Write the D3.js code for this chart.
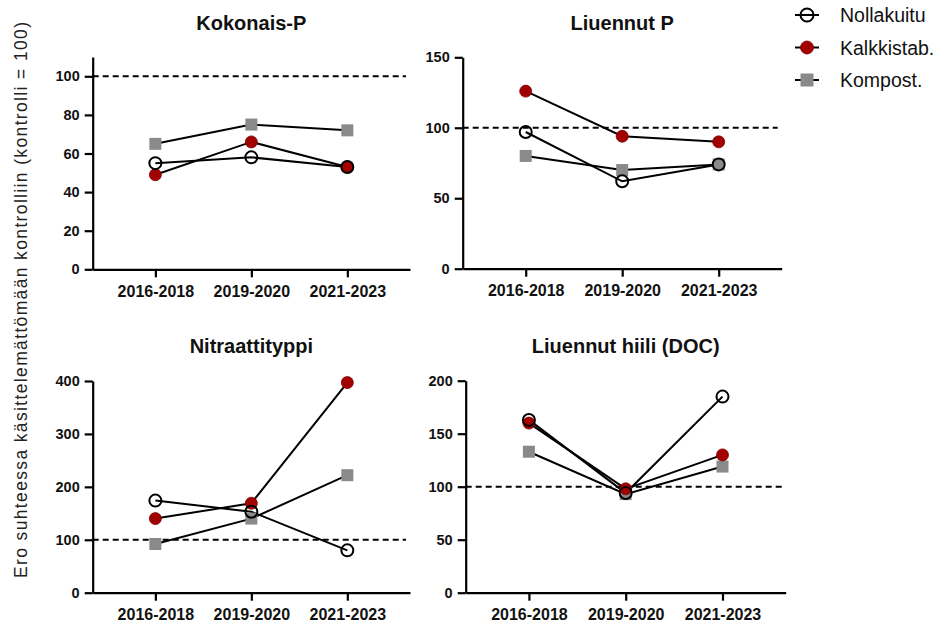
<!DOCTYPE html>
<html>
<head>
<meta charset="utf-8">
<script src="https://cdn.jsdelivr.net/npm/d3@7"></script>
<style>
  html, body { margin: 0; padding: 0; background: #fff; }
  svg { display: block; font-family: Arial, "Liberation Sans", Helvetica, sans-serif; }
</style>
</head>
<body>
<svg id="chart" width="938" height="623"></svg>
<script>
// Periods on the x axis
const periods = ["2016-2018", "2019-2020", "2021-2023"];

// Treatments (legend order)
const treatments = ["Nollakuitu", "Kalkkistab.", "Kompost."];

// Panel titles
const panelTitles = ["Kokonais-P", "Liuennut P", "Nitraattityppi", "Liuennut hiili (DOC)"];

// Values relative to untreated control (control = 100)
const kokonaisP_nolla   = [55, 58, 53];
const kokonaisP_kalkki  = [49, 66, 53];
const kokonaisP_kompost = [65, 75, 72];

const liuennutP_nolla   = [97, 62, 74];
const liuennutP_kalkki  = [126, 94, 90];
const liuennutP_kompost = [80, 70, 74];

const nitraatti_nolla   = [174, 153, 80];
const nitraatti_kalkki  = [140, 169, 397];
const nitraatti_kompost = [92, 140, 222];

const doc_nolla   = [163, 94, 185];
const doc_kalkki  = [160, 98, 130];
const doc_kompost = [133, 93, 119];

// Y-axis maxima and tick values per panel
const yMax = [110, 150, 400, 200];
const yTicks = [
  [0, 20, 40, 60, 80, 100],
  [0, 50, 100, 150],
  [0, 100, 200, 300, 400],
  [0, 50, 100, 150, 200]
];
const referenceLevel = 100;

const panelSeries = [
  [kokonaisP_nolla, kokonaisP_kalkki, kokonaisP_kompost],
  [liuennutP_nolla, liuennutP_kalkki, liuennutP_kompost],
  [nitraatti_nolla, nitraatti_kalkki, nitraatti_kompost],
  [doc_nolla, doc_kalkki, doc_kompost]
];

// Layout of the four plot areas (axis x-start, x-end, y-top, y-bottom)
const layout = [
  { x0: 92.7,  x1: 410,   y0: 57,    y1: 269.3, titleY: 30 },
  { x0: 462.7, x1: 781.7, y0: 57.3,  y1: 268.7, titleY: 30 },
  { x0: 92.7,  x1: 410,   y0: 381,   y1: 592.7, titleY: 353 },
  { x0: 465.7, x1: 785.7, y0: 380.7, y1: 592.7, titleY: 353 }
];

const RED = "#a30000";
const GRAY = "#8a8a8a";

const svg = d3.select("#chart");

function drawMarker(g, kind, x, y, size) {
  if (kind === 0) {
    g.append("circle").attr("cx", x).attr("cy", y).attr("r", size)
      .attr("fill", "none").attr("stroke", "#000").attr("stroke-width", 2);
  } else if (kind === 1) {
    g.append("circle").attr("cx", x).attr("cy", y).attr("r", size)
      .attr("fill", RED).attr("stroke", "#7a0000").attr("stroke-width", 0.8);
  } else {
    const s = size * 2;
    g.append("rect").attr("x", x - s / 2).attr("y", y - s / 2)
      .attr("width", s).attr("height", s).attr("fill", GRAY);
  }
}

panelSeries.forEach((series, i) => {
  const L = layout[i];
  const x = d3.scalePoint().domain(periods).range([L.x0, L.x1]).padding(0.653);
  const y = d3.scaleLinear().domain([0, yMax[i]]).range([L.y1, L.y0]);
  const g = svg.append("g");

  // Title
  g.append("text")
    .attr("x", x(periods[1]))
    .attr("y", L.titleY)
    .attr("text-anchor", "middle")
    .attr("font-size", 20)
    .attr("font-weight", "bold")
    .attr("fill", "#111")
    .text(panelTitles[i]);

  // Reference line at control level
  g.append("line")
    .attr("x1", L.x0).attr("x2", L.x1 - 4)
    .attr("y1", y(referenceLevel)).attr("y2", y(referenceLevel))
    .attr("stroke", "#000").attr("stroke-width", 2)
    .attr("stroke-dasharray", "6,4");

  // Y axis
  const yAxis = g.append("g")
    .attr("transform", `translate(${L.x0},0)`)
    .call(d3.axisLeft(y).tickValues(yTicks[i]).tickSize(8).tickSizeOuter(0).tickPadding(5));
  yAxis.select(".domain").attr("stroke-width", 2.2);
  yAxis.selectAll(".tick line").attr("stroke-width", 2.2);
  yAxis.selectAll(".tick text")
    .attr("font-size", 14.5).attr("font-weight", "bold")
    .attr("font-family", "Arial, 'Liberation Sans', sans-serif").attr("fill", "#111");

  // X axis
  const xAxis = g.append("g")
    .attr("transform", `translate(0,${L.y1})`)
    .call(d3.axisBottom(x).tickSize(8).tickSizeOuter(0).tickPadding(8));
  xAxis.select(".domain").attr("stroke-width", 2.2);
  xAxis.selectAll(".tick line").attr("stroke-width", 2.2);
  xAxis.selectAll(".tick text")
    .attr("font-size", 16).attr("font-weight", "bold")
    .attr("font-family", "Arial, 'Liberation Sans', sans-serif").attr("fill", "#111");

  // Lines and markers, Kompost first so open circles end on top
  const line = d3.line().x((d, k) => x(periods[k])).y(d => y(d));
  [2, 1, 0].forEach(s => {
    g.append("path")
      .attr("d", line(series[s]))
      .attr("fill", "none").attr("stroke", "#000").attr("stroke-width", 2);
  });
  [2, 1, 0].forEach(s => {
    series[s].forEach((v, k) => drawMarker(g, s, x(periods[k]), y(v), 6));
  });
});

// Shared y-axis label
svg.append("text")
  .attr("transform", "translate(27,300) rotate(-90)")
  .attr("text-anchor", "middle")
  .attr("font-size", 17.5)
  .attr("textLength", 556)
  .attr("lengthAdjust", "spacing")
  .attr("fill", "#222")
  .text("Ero suhteessa käsittelemättömään kontrolliin (kontrolli = 100)");

// Legend
const legendY = [15, 47.5, 80];
treatments.forEach((t, s) => {
  const lg = svg.append("g");
  lg.append("line")
    .attr("x1", 795).attr("x2", 819)
    .attr("y1", legendY[s]).attr("y2", legendY[s])
    .attr("stroke", "#000").attr("stroke-width", 2);
  drawMarker(lg, s, 807, legendY[s], 6.5);
  lg.append("text")
    .attr("x", 840).attr("y", legendY[s])
    .attr("dy", "0.36em")
    .attr("font-size", 19.5)
    .attr("fill", "#111")
    .text(t);
});
</script>
</body>
</html>
